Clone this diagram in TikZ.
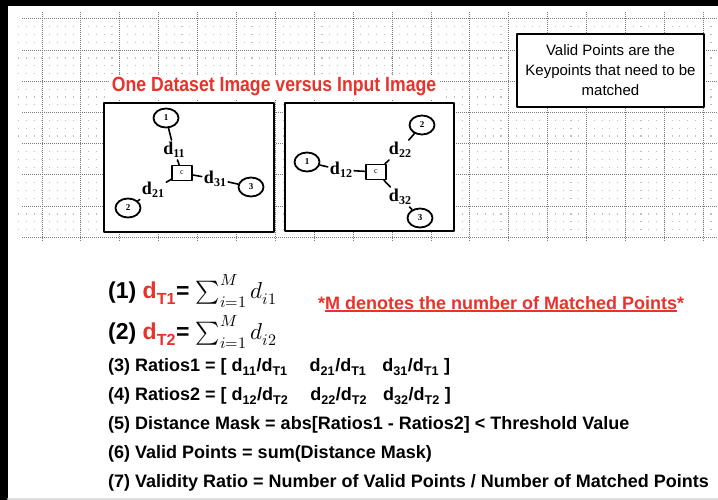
\documentclass[tikz,border=0pt]{standalone}
\usepackage{fontspec}
\usepackage{unicode-math}
\setmainfont{Liberation Sans}
\setmathfont{Latin Modern Math}
\newfontfamily\serifbold{Liberation Serif}
\newfontfamily\narrowsans[FakeStretch=0.86]{Liberation Sans}
\usetikzlibrary{shapes.geometric}
\definecolor{slidered}{HTML}{E8322B}
\definecolor{gridgray}{HTML}{7A7A7A}
% thick underline that leaves the asterisks out
\newcommand{\thickul}[1]{\setbox0\hbox{#1}\rlap{\rule[-2.8pt]{\wd0}{1.7pt}}\box0}
% distance label in the small diagrams
\newcommand{\dlab}[1]{d\raisebox{-3pt}{\fontsize{12}{12}\selectfont #1}}
\tikzset{
  every picture/.style={line join=round, line cap=round},
  majorgrid/.style={gridgray, line width=1pt, dash pattern=on 1pt off 1pt, line cap=butt},
  minorgrid/.style={gray!50, line width=1.1pt, dash pattern=on 1.1pt off 6.68pt, line cap=butt},
  imgbox/.style={draw, fill=white, line width=2pt, minimum width=170pt, minimum height=128pt},
  kpoint/.style={ellipse, draw, line width=1.8pt, minimum width=25pt, minimum height=19pt,
    inner sep=0pt, font=\serifbold\bfseries\fontsize{9}{9}\selectfont},
  centre/.style={rectangle, draw, line width=1.5pt, minimum width=20pt, minimum height=15pt,
    inner sep=0pt, font=\serifbold\fontsize{8}{8}\selectfont},
  dist/.style={font=\serifbold\bfseries\fontsize{18}{18}\selectfont, inner sep=2pt},
  link/.style={line width=1.6pt},
  eqline/.style={anchor=west, inner sep=0pt, font=\bfseries\fontsize{18}{21}\selectfont},
  bigeq/.style={anchor=west, inner sep=0pt, font=\bfseries\fontsize{23}{26}\selectfont},
}

\begin{document}
\begin{tikzpicture}[x=1pt,y=-1pt]
\useasboundingbox (0,0) rectangle (718,500);
% grid paper behind the upper half of the slide
\foreach \k in {0,...,6}
  \foreach \j in {1,2,3}
    \draw[minorgrid] (18.05,{19+31.2*\k+7.8*\j}) -- (718,{19+31.2*\k+7.8*\j});
\foreach \k in {0,...,7}
  \draw[majorgrid] (22,{19+31.2*\k}) -- (718,{19+31.2*\k});
\foreach \k in {0,...,17}
  \draw[majorgrid] ({42+38.9*\k},12) -- ({42+38.9*\k},241);
% slide frame
\fill (0,0) rectangle (718,6);
\fill (0,0) rectangle (8,500);
\draw[gray!25, line width=2pt] (8,499) -- (718,499);

\node[font=\narrowsans\bfseries\fontsize{20.5}{22}\selectfont, text=slidered, fill=white, inner sep=3pt] (title) at (274,87) {One Dataset Image versus Input Image};
\node[draw, fill=white, line width=2pt, minimum width=187pt, minimum height=73pt, align=center,
  font=\fontsize{15}{20}\selectfont] (validbox) at (610.5,70.5)
  {Valid Points are the\\Keypoints that need to be\\matched};

% dataset image
\node[imgbox] (dsbox) at (189,167.5) {};
\node[kpoint] (ds1) at (166,118) {1};
\node[kpoint] (ds2) at (128,208) {2};
\node[kpoint] (ds3) at (251,187) {3};
\node[centre] (dsc) at (182,173) {c};
\node[dist] (d11) at (174,150) {\dlab{11}};
\node[dist] (d21) at (153,190) {\dlab{21}};
\node[dist] (d31) at (215,179) {\dlab{31}};
\draw[link] (ds1) -- (d11) -- (dsc);
\draw[link] (dsc) -- (d21) -- (ds2);
\draw[link] (dsc) -- (d31) -- (ds3);

% input image
\node[imgbox, minimum width=169pt] (inbox) at (369.5,167) {};
\node[kpoint] (in1) at (307,162) {1};
\node[kpoint] (in2) at (422,125) {2};
\node[kpoint] (in3) at (420,218) {3};
\node[centre] (inc) at (376,172) {c};
\node[dist] (d12) at (341,170) {\dlab{12}};
\node[dist] (d22) at (400,150) {\dlab{22}};
\node[dist] (d32) at (400,197) {\dlab{32}};
\draw[link] (in1) -- (d12) -- (inc);
\draw[link] (inc) -- (d22) -- (in2);
\draw[link] (inc) -- (d32) -- (in3);

% formulas
\node[bigeq] (eq1) at (108,291) {(1) \textcolor{slidered}{d\textsubscript{T1}}= $\sum_{i=1}^{M} d_{i1}$};
\node[bigeq] (eq2) at (108,332) {(2) \textcolor{slidered}{d\textsubscript{T2}}= $\sum_{i=1}^{M} d_{i2}$};
\node[anchor=west, inner sep=0pt, text=slidered, font=\bfseries\fontsize{18}{20}\selectfont] (mnote) at (318,304)
  {*\thickul{M denotes the number of Matched Points}*};
\node[eqline] (eq3) at (108,367) {(3) Ratios1 = [ d\textsubscript{11}/d\textsubscript{T1}\hspace{22pt}d\textsubscript{21}/d\textsubscript{T1}\hspace{16pt}d\textsubscript{31}/d\textsubscript{T1} ]};
\node[eqline] (eq4) at (108,396) {(4) Ratios2 = [ d\textsubscript{12}/d\textsubscript{T2}\hspace{22pt}d\textsubscript{22}/d\textsubscript{T2}\hspace{16pt}d\textsubscript{32}/d\textsubscript{T2} ]};
\node[eqline] (eq5) at (108,425) {(5) Distance Mask = abs[Ratios1 - Ratios2] < Threshold Value};
\node[eqline] (eq6) at (108,454) {(6) Valid Points = sum(Distance Mask)};
\node[eqline] (eq7) at (108,483) {(7) Validity Ratio = Number of Valid Points / Number of Matched Points};
\end{tikzpicture}
\end{document}
